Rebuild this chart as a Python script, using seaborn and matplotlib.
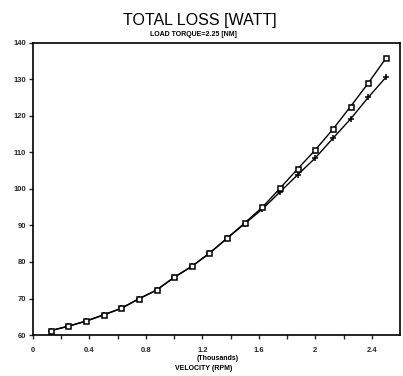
import matplotlib
matplotlib.use("Agg")
import matplotlib.pyplot as plt
import seaborn as sns
import pandas as pd
from matplotlib.ticker import FixedLocator, FixedFormatter

# ---- data ----
velocity = [0.125, 0.25, 0.375, 0.5, 0.625, 0.75, 0.875, 1.0, 1.125, 1.25,
            1.375, 1.5, 1.625, 1.75, 1.875, 2.0, 2.125, 2.25, 2.375, 2.5]
loss_a = [61.2, 62.4, 63.8, 65.5, 67.3, 69.9, 72.3, 75.8, 78.8, 82.4,
          86.5, 90.7, 95.0, 100.2, 105.5, 110.7, 116.4, 122.6, 129.0, 135.8]
loss_b = [61.2, 62.4, 63.8, 65.5, 67.3, 69.9, 72.3, 75.8, 78.8, 82.4,
          86.5, 90.5, 94.5, 99.2, 103.9, 108.5, 113.9, 119.2, 125.1, 130.6]
x_ticks = [0, 0.4, 0.8, 1.2, 1.6, 2.0, 2.4]
x_tick_labels = ["0", "0.4", "0.8", "1.2", "1.6", "2", "2.4"]
x_minor = [0.2, 0.6, 1.0, 1.4, 1.8, 2.2]
y_ticks = [60, 70, 80, 90, 100, 110, 120, 130, 140]

sns.set_style("ticks")
plt.rcParams['font.family'] = ['Liberation Sans', 'DejaVu Sans']

fig = plt.figure(figsize=(4.03, 3.76), dpi=100)
ax = fig.add_axes([33/403, 1 - 335/376, (400-33)/403, (335-43)/376])

df_a = pd.DataFrame({"v": velocity, "loss": loss_a})
df_b = pd.DataFrame({"v": velocity, "loss": loss_b})

sns.lineplot(data=df_b, x="v", y="loss", ax=ax, color="black", lw=1.0,
             marker="+", markersize=4.5, markeredgewidth=1.1, markeredgecolor="black")
sns.lineplot(data=df_a, x="v", y="loss", ax=ax, color="black", lw=1.0,
             marker="s", markersize=3.6, markerfacecolor="white",
             markeredgecolor="black", markeredgewidth=1.1)

ax.set_xlim(0, 2.6)
ax.set_ylim(60, 140)
ax.xaxis.set_major_locator(FixedLocator(x_ticks))
ax.xaxis.set_major_formatter(FixedFormatter(x_tick_labels))
ax.xaxis.set_minor_locator(FixedLocator(x_minor))
ax.set_yticks(y_ticks)
ax.set_yticklabels([str(v) for v in y_ticks])
ax.tick_params(axis='both', which='both', direction='out', length=3, width=1,
               labelsize=5.5, pad=2)
ax.tick_params(axis='x', which='both', pad=5.5)
for lab in ax.get_xticklabels() + ax.get_yticklabels():
    lab.set_fontweight('bold')
ax.set_xlabel("")
ax.set_ylabel("")
for s in ax.spines.values():
    s.set_linewidth(1.2)
    s.set_color("black")

fig.text(200/403, 1 - 20/376, "TOTAL LOSS [WATT]", ha="center", va="center",
         fontsize=11.5, color="black")
fig.text(193/403, 1 - 35/376, "LOAD TORQUE=2.25 [NM]", ha="center", va="center",
         fontsize=5, fontweight="bold", color="black")
fig.text(218/403, 1 - 358.5/376, "(Thousands)", ha="center", va="center",
         fontsize=5, fontweight="bold", color="black")
fig.text(204/403, 1 - 368/376, "VELOCITY (RPM)", ha="center", va="center",
         fontsize=5, fontweight="bold", color="black")

fig.savefig("out.png", dpi=100)
